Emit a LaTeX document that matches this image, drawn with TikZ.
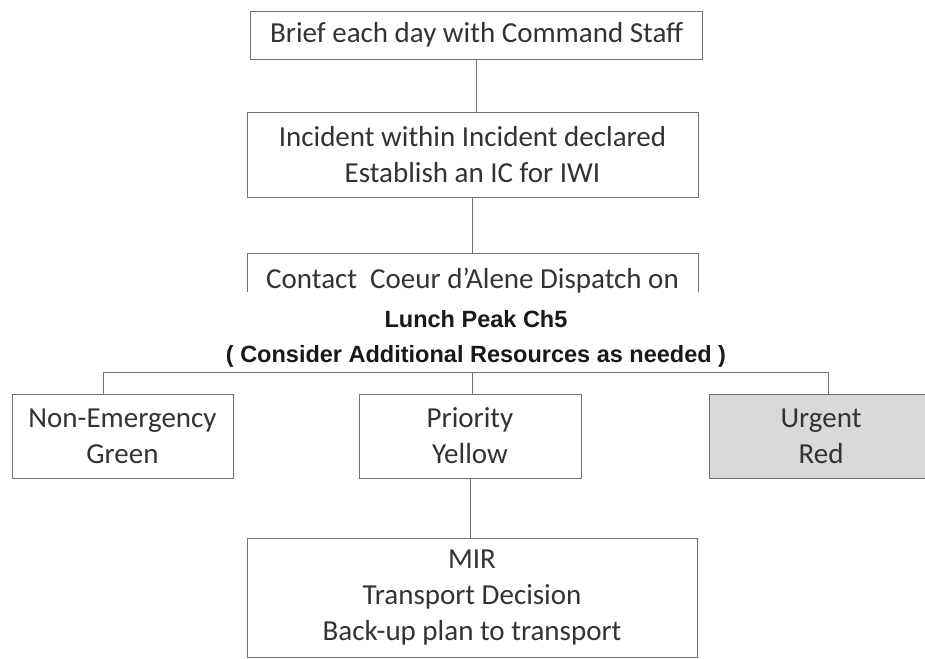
\documentclass[tikz,border=0pt]{standalone}
\usepackage{fontspec}
\setmainfont{Carlito}
\newfontfamily\lblfont{Liberation Sans}
\definecolor{txt}{HTML}{333333}
\definecolor{edge}{HTML}{707070}
\definecolor{urgfill}{HTML}{D9D9D9}
\begin{document}
\begin{tikzpicture}[x=1pt,y=-1pt,
  conn/.style={draw=edge, line width=1pt},
  box/.style={draw=edge, line width=1pt, inner sep=0pt, align=center, text=txt,
              font=\fontsize{29}{36}\selectfont},
  plain/.style={inner sep=0pt, align=center, text=txt, font=\fontsize{29}{36}\selectfont},
  lbl/.style={inner sep=0pt, align=center, text=black!90,
              font=\lblfont\bfseries\fontsize{23.5}{35}\selectfont}]
\useasboundingbox (0,0) rectangle (925,658);
\fill[white] (0,0) rectangle (925,658);
\clip (0,0) rectangle (925,658);

\node[box, minimum width=452, minimum height=48] (b1) at (476.7,35.2) {Brief each day with Command Staff};
\node[box, minimum width=451, minimum height=84] (b2) at (472.5,155) {Incident within Incident declared\\Establish an IC for IWI};

\coordinate (b3sw) at (247,292);
\coordinate (b3nw) at (247,253);
\coordinate (b3ne) at (698,253);
\coordinate (b3se) at (698,292);
\draw[conn] (b3sw) -- (b3nw) -- (b3ne) -- (b3se);
\node[plain] (b3) at (472.5,281) {Contact\ \ Coeur d’Alene Dispatch on};

\node[lbl] (lab) at (476,338.5) {Lunch Peak Ch5\\( Consider Additional Resources as needed )};

\node[box, minimum width=221, minimum height=84] (ne) at (122.5,436) {Non-Emergency\\Green};
\node[box, minimum width=222, minimum height=84] (pr) at (470,436) {Priority\\Yellow};
\node[box, fill=urgfill, minimum width=224, minimum height=84] (ur) at (821,436) {Urgent\\Red};
\node[box, minimum width=450, minimum height=119] (mir) at (472,597.5) {MIR\\Transport Decision\\Back-up plan to transport};

\draw[conn] (b1.south) -- (b1.south |- b2.north);
\draw[conn] (b2.south) -- (b2.south |- b3nw);

\coordinate (hl) at (103,372);
\coordinate (hm) at (472,372);
\coordinate (hr) at (828,372);
\draw[conn] (hl) -- (hr);
\draw[conn] (hl) -- (hl |- ne.north);
\draw[conn] (hm) -- (hm |- pr.north);
\draw[conn] (hr) -- (hr |- ur.north);
\draw[conn] (pr.south) -- (pr.south |- mir.north);
\end{tikzpicture}
\end{document}
